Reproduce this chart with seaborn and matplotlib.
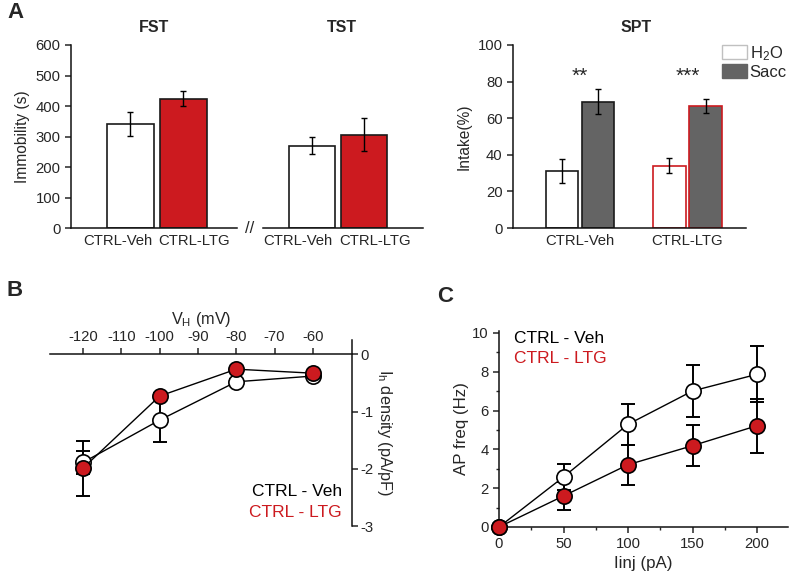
import numpy as np
import pandas as pd
import matplotlib.pyplot as plt
import seaborn as sns
from matplotlib.patches import Patch
from matplotlib.ticker import MultipleLocator

# ---- datos ----
groups = ['CTRL-Veh', 'CTRL-LTG']
fst_mean = [341, 424]
fst_sem = [38, 24]
tst_mean = [270, 306]
tst_sem = [29, 54]

fluids = ['H2O', 'Sacc']
spt_h2o = [31, 34]
spt_h2o_sem = [6.5, 4]
spt_sacc = [69, 66.7]
spt_sacc_sem = [6.7, 4]
spt_stars = ['**', '***']

vh = [-120, -100, -80, -60]
ih_veh = [-1.89, -1.15, -0.48, -0.38]
ih_veh_sem = [0.2, 0.38, 0.05, 0.03]
ih_ltg = [-1.99, -0.73, -0.26, -0.33]
ih_ltg_sem = [0.48, 0.05, 0.04, 0.03]

iinj = [0, 50, 100, 150, 200]
ap_veh = [0, 2.58, 5.29, 7.01, 7.87]
ap_veh_sem = [0, 0.65, 1.07, 1.36, 1.44]
ap_ltg = [0, 1.6, 3.21, 4.19, 5.22]
ap_ltg_sem = [0, 0.74, 1.03, 1.07, 1.39]

RED = '#CC1A1F'
GREY = '#646464'

sns.set_style('ticks')
plt.rcParams['font.family'] = ['Liberation Sans', 'DejaVu Sans']
plt.rcParams['axes.unicode_minus'] = False
plt.rcParams['mathtext.default'] = 'regular'
plt.rcParams['axes.linewidth'] = 1.1
plt.rcParams['xtick.major.width'] = 1.1
plt.rcParams['ytick.major.width'] = 1.1
plt.rcParams['xtick.minor.width'] = 1.0
plt.rcParams['ytick.minor.width'] = 1.0
plt.rcParams['xtick.major.size'] = 4
plt.rcParams['ytick.major.size'] = 4
plt.rcParams['xtick.minor.size'] = 2.5
plt.rcParams['ytick.minor.size'] = 2.5
plt.rcParams['axes.edgecolor'] = '#111111'

W, H = 790, 579
fig = plt.figure(figsize=(W / 100, H / 100), dpi=100)


def px_axes(l, t, r, b):
    return fig.add_axes([l / W, 1 - b / H, (r - l) / W, (b - t) / H])


FS = 10.7

# ---- A: FST ----
ax = px_axes(71, 45, 237, 228)
sns.barplot(x=groups, y=fst_mean, hue=groups, palette=['white', RED], legend=False,
            saturation=1, edgecolor='#1a1a1a', linewidth=1.2, width=0.89, ax=ax)
ax.errorbar(range(2), fst_mean, yerr=fst_sem, fmt='none', ecolor='black',
            elinewidth=1.0, capsize=2.5, capthick=1.0)
ax.set_xlim(-1.12, 2.01)
ax.set_ylim(0, 600)
ax.set_yticks(range(0, 601, 100))
# etiquetas algo separadas de las barras, como en el original
ax.set_xticks([-0.233, 1.201], groups)
ax.set_ylabel('Immobility (s)', fontsize=FS + 0.5, labelpad=4)
ax.tick_params(axis='x', length=0, labelsize=FS, pad=4)
ax.tick_params(axis='y', labelsize=FS)
sns.despine(ax=ax)

# ---- A: TST ----
ax = px_axes(263, 45, 423, 228)
sns.barplot(x=groups, y=tst_mean, hue=groups, palette=['white', RED], legend=False,
            saturation=1, edgecolor='#1a1a1a', linewidth=1.2, width=0.89, ax=ax)
ax.errorbar(range(2), tst_mean, yerr=tst_sem, fmt='none', ecolor='black',
            elinewidth=1.0, capsize=2.5, capthick=1.0)
ax.set_xlim(-0.94, 2.14)
ax.set_ylim(0, 600)
ax.set_yticks([])
ax.set_ylabel('')
ax.set_xticks([-0.267, 1.214], groups)
ax.tick_params(axis='x', length=0, labelsize=FS, pad=4)
sns.despine(ax=ax, left=True)
fig.text(250 / W, 1 - 229 / H, '//', fontsize=12, ha='center', va='center')

# ---- A: SPT ----
ax = px_axes(513, 45, 746, 228)
df_spt = pd.DataFrame({
    'group': groups * 2,
    'fluid': [fluids[0]] * 2 + [fluids[1]] * 2,
    'value': spt_h2o + spt_sacc,
})
sns.barplot(data=df_spt, x='group', y='value', hue='fluid', hue_order=fluids,
            palette={'H2O': 'white', 'Sacc': GREY}, saturation=1, edgecolor='#1a1a1a',
            linewidth=1.2, width=0.67, gap=0.1, legend=False, ax=ax)
for cont, sems, vals in zip(ax.containers, [spt_h2o_sem, spt_sacc_sem], [spt_h2o, spt_sacc]):
    xs = [b.get_x() + b.get_width() / 2 for b in cont]
    cont[1].set_edgecolor(RED)
    ax.errorbar(xs, vals, yerr=sems, fmt='none', ecolor='black',
                elinewidth=1.0, capsize=2.5, capthick=1.0)
for i, s in enumerate(spt_stars):
    ax.text(i, 83, s, ha='center', va='center', fontsize=15)
ax.set_xlim(-0.623, 1.544)
ax.set_ylim(0, 100)
ax.set_yticks(range(0, 101, 20))
ax.set_xlabel('')
ax.set_ylabel('Intake(%)', fontsize=FS + 0.5, labelpad=4)
ax.tick_params(axis='x', length=0, labelsize=FS, pad=4)
ax.tick_params(axis='y', labelsize=FS)
sns.despine(ax=ax)
handles = [Patch(facecolor='white', edgecolor='#c0c0c0', label='H$_2$O'),
           Patch(facecolor=GREY, edgecolor=GREY, label='Sacc')]
ax.legend(handles=handles, loc='upper left', bbox_to_anchor=(722 / W, 1 - 44 / H),
          bbox_transform=fig.transFigure, frameon=False, fontsize=12,
          handlelength=1.5, handleheight=0.9, handletextpad=0.15,
          borderaxespad=0, borderpad=0, labelspacing=0.1)

# ---- B: Ih ----
ax = px_axes(50, 340, 352, 526)
ax.errorbar(vh, ih_veh, yerr=ih_veh_sem, fmt='none', ecolor='black',
            elinewidth=1.4, capsize=5, capthick=1.4, zorder=1)
ax.errorbar(vh, ih_ltg, yerr=ih_ltg_sem, fmt='none', ecolor='black',
            elinewidth=1.4, capsize=5, capthick=1.4, zorder=1)
sns.lineplot(x=vh, y=ih_veh, color='black', lw=1.0, marker='o', markersize=11,
             markerfacecolor='white', markeredgecolor='black', markeredgewidth=1.2,
             ax=ax, zorder=3)
sns.lineplot(x=vh, y=ih_ltg, color='black', lw=1.0, marker='o', markersize=11,
             markerfacecolor=RED, markeredgecolor='black', markeredgewidth=1.2,
             ax=ax, zorder=4)
ax.set_xlim(-128.6, -49.8)
ax.set_ylim(-3, 0.25)
ax.spines['left'].set_visible(False)
ax.spines['bottom'].set_visible(False)
ax.spines['top'].set_position(('data', 0))
ax.xaxis.tick_top()
ax.yaxis.tick_right()
ax.set_xticks(range(-120, -59, 10))
ax.set_yticks([0, -1, -2, -3])
ax.xaxis.set_label_position('top')
ax.set_xlabel('$V_H$ (mV)', fontsize=FS + 1, labelpad=4)
ax.yaxis.set_label_position('right')
ax.tick_params(labelsize=FS)
ax.tick_params(axis='y', pad=2)
ax.set_ylabel('$I_h$ density (pA/pF)', fontsize=FS + 1, rotation=270, labelpad=15)
ax.text(0.967, 0.183, 'CTRL - Veh', color='black', fontsize=12.5, ha='right',
        va='center', transform=ax.transAxes)
ax.text(0.967, 0.07, 'CTRL - LTG', color=RED, fontsize=12.5, ha='right',
        va='center', transform=ax.transAxes)

# ---- C: AP freq ----
ax = px_axes(499, 331, 788, 527)
ax.errorbar(iinj, ap_veh, yerr=ap_veh_sem, fmt='none', ecolor='black',
            elinewidth=1.4, capsize=5, capthick=1.4, zorder=1)
ax.errorbar(iinj, ap_ltg, yerr=ap_ltg_sem, fmt='none', ecolor='black',
            elinewidth=1.4, capsize=5, capthick=1.4, zorder=1)
sns.lineplot(x=iinj, y=ap_veh, color='black', lw=1.0, marker='o', markersize=11,
             markerfacecolor='white', markeredgecolor='black', markeredgewidth=1.2,
             ax=ax, zorder=3, clip_on=False)
sns.lineplot(x=iinj, y=ap_ltg, color='black', lw=1.0, marker='o', markersize=11,
             markerfacecolor=RED, markeredgecolor='black', markeredgewidth=1.2,
             ax=ax, zorder=4, clip_on=False)
ax.set_xlim(0, 224)
ax.set_ylim(0, 10.1)
ax.set_xticks(range(0, 201, 50))
ax.set_yticks(range(0, 11, 2))
ax.xaxis.set_minor_locator(MultipleLocator(25))
ax.yaxis.set_minor_locator(MultipleLocator(1))
ax.tick_params(which='both', labelsize=FS)
ax.set_xlabel('Iinj (pA)', fontsize=FS + 1.5, labelpad=3)
ax.set_ylabel('AP freq (Hz)', fontsize=FS + 1.5, labelpad=2)
sns.despine(ax=ax)
ax.text(0.052, 0.964, 'CTRL - Veh', color='black', fontsize=12.5, ha='left',
        va='center', transform=ax.transAxes)
ax.text(0.052, 0.862, 'CTRL - LTG', color=RED, fontsize=12.5, ha='left',
        va='center', transform=ax.transAxes)

# ---- titulos y letras ----
for x, t in [(154, 'FST'), (342, 'TST'), (636, 'SPT')]:
    fig.text(x / W, 1 - 27 / H, t, fontsize=11.5, fontweight='bold',
             ha='center', va='center')
for x, y, t in [(15, 12, 'A'), (15, 291, 'B'), (445, 297, 'C')]:
    fig.text(x / W, 1 - y / H, t, fontsize=16, fontweight='bold',
             ha='center', va='center')

fig.savefig('out.png', dpi=100)
